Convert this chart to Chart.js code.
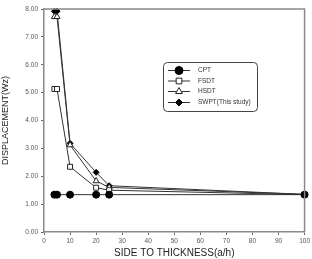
<!DOCTYPE html>
<html>
<head>
<meta charset="utf-8">
<script src="https://cdn.jsdelivr.net/npm/chart.js@4.4.0/dist/chart.umd.min.js"></script>
<style>
  html, body { margin: 0; padding: 0; background: #fff; }
  #wrap { width: 312px; height: 259px; position: relative; }
</style>
</head>
<body>
<div id="wrap"><canvas id="chart" width="312" height="259"></canvas></div>
<script>
// Relación lado/espesor (a/h)
const sideToThickness = [4, 5, 10, 20, 25, 100];

// Desplazamiento adimensional por teoría
const cpt  = [1.34, 1.34, 1.34, 1.34, 1.34, 1.34];
const fsdt = [5.13, 5.13, 2.34, 1.59, 1.50, 1.34];
const hsdt = [7.72, 7.72, 3.12, 1.83, 1.60, 1.35];
const swpt = [7.92, 7.92, 3.18, 2.14, 1.66, 1.35];

const seriesNames = ['CPT', 'FSDT', 'HSDT', 'SWPT(This study)'];
const yTicks = [0, 1, 2, 3, 4, 5, 6, 7, 8];
const xTicks = [0, 10, 20, 30, 40, 50, 60, 70, 80, 90, 100];

function toPoints(values) {
  return sideToThickness.map((x, i) => ({ x: x, y: values[i] }));
}

const lineColor = '#333';
const styles = [
  { pointStyle: 'circle',   pointRadius: 3.5, pointBackgroundColor: '#000', pointBorderColor: '#000' },
  { pointStyle: 'rect',     pointRadius: 3.5, pointBackgroundColor: '#fff', pointBorderColor: '#222' },
  { pointStyle: 'triangle', pointRadius: 3.5, pointBackgroundColor: '#fff', pointBorderColor: '#222' },
  { pointStyle: 'rectRot',  pointRadius: 3,   pointBackgroundColor: '#000', pointBorderColor: '#000' }
];

const datasets = [cpt, fsdt, hsdt, swpt].map((vals, i) => Object.assign({
  label: seriesNames[i],
  data: toPoints(vals),
  borderColor: lineColor,
  borderWidth: 1,
  pointBorderWidth: 1,
  fill: false,
  tension: 0,
  clip: false
}, styles[i]));

// Marco superior/derecho y leyenda dentro del área
const framePlugin = {
  id: 'frame',
  afterDraw(chart) {
    const { ctx, chartArea: a } = chart;
    ctx.save();
    ctx.strokeStyle = '#8a8a8a';
    ctx.lineWidth = 1.5;
    ctx.beginPath();
    ctx.moveTo(a.left, a.top);
    ctx.lineTo(a.right, a.top);
    ctx.lineTo(a.right, a.bottom);
    ctx.stroke();

    // caja de la leyenda
    const bx = 163, by = 62, bw = 94, bh = 49;
    ctx.strokeStyle = '#444';
    ctx.lineWidth = 1;
    ctx.beginPath();
    ctx.roundRect(bx + 0.5, by + 0.5, bw, bh, 4);
    ctx.stroke();

    const rowsY = [70.5, 81, 91.5, 102.5];
    ctx.font = '6.5px "Liberation Sans", Arial, sans-serif';
    ctx.textBaseline = 'middle';
    datasets.forEach((ds, i) => {
      const y = rowsY[i];
      ctx.strokeStyle = lineColor;
      ctx.lineWidth = 1;
      ctx.beginPath();
      ctx.moveTo(168, y);
      ctx.lineTo(190, y);
      ctx.stroke();
      ctx.fillStyle = ds.pointBackgroundColor;
      ctx.strokeStyle = ds.pointBorderColor;
      Chart.helpers.drawPoint(ctx, {
        pointStyle: ds.pointStyle, radius: ds.pointRadius + 0.5, rotation: 0, borderWidth: 1
      }, 179, y);
      ctx.fillStyle = '#333';
      ctx.fillText(ds.label, 198, y);
    });
    ctx.restore();
  }
};

new Chart(document.getElementById('chart'), {
  type: 'line',
  data: { datasets: datasets },
  options: {
    responsive: false,
    animation: false,
    layout: { padding: { top: 9, right: 7, left: 0, bottom: 0 } },
    plugins: { legend: { display: false }, tooltip: { enabled: false } },
    scales: {
      x: {
        type: 'linear',
        min: 0, max: 100,
        afterBuildTicks: s => { s.ticks = xTicks.map(v => ({ value: v })); },
        afterFit: s => { s.height = 27; },
        border: { color: '#8a8a8a', width: 1.5 },
        grid: { drawOnChartArea: false, drawTicks: true, tickLength: 3, color: '#666' },
        ticks: { color: '#555', font: { size: 6.5, family: 'Liberation Sans' }, padding: 2, maxRotation: 0 },
        title: { display: true, text: 'SIDE TO THICKNESS(a/h)', color: '#222',
                 font: { size: 10, family: 'Liberation Sans' }, padding: { top: 0, bottom: 0 } }
      },
      y: {
        type: 'linear',
        min: 0, max: 8,
        afterBuildTicks: s => { s.ticks = yTicks.map(v => ({ value: v })); },
        afterFit: s => { s.width = 44; },
        border: { color: '#8a8a8a', width: 1.5 },
        grid: { drawOnChartArea: false, drawTicks: true, tickLength: 3, color: '#666' },
        ticks: { color: '#555', font: { size: 6.5, family: 'Liberation Sans' }, padding: 3,
                 callback: v => Number(v).toFixed(2) },
        title: { display: true, text: 'DISPLACEMENT(Wz)', color: '#222',
                 font: { size: 9, family: 'Liberation Sans' }, padding: { top: 0, bottom: 2 } }
      }
    }
  },
  plugins: [framePlugin]
});
</script>
</body>
</html>
